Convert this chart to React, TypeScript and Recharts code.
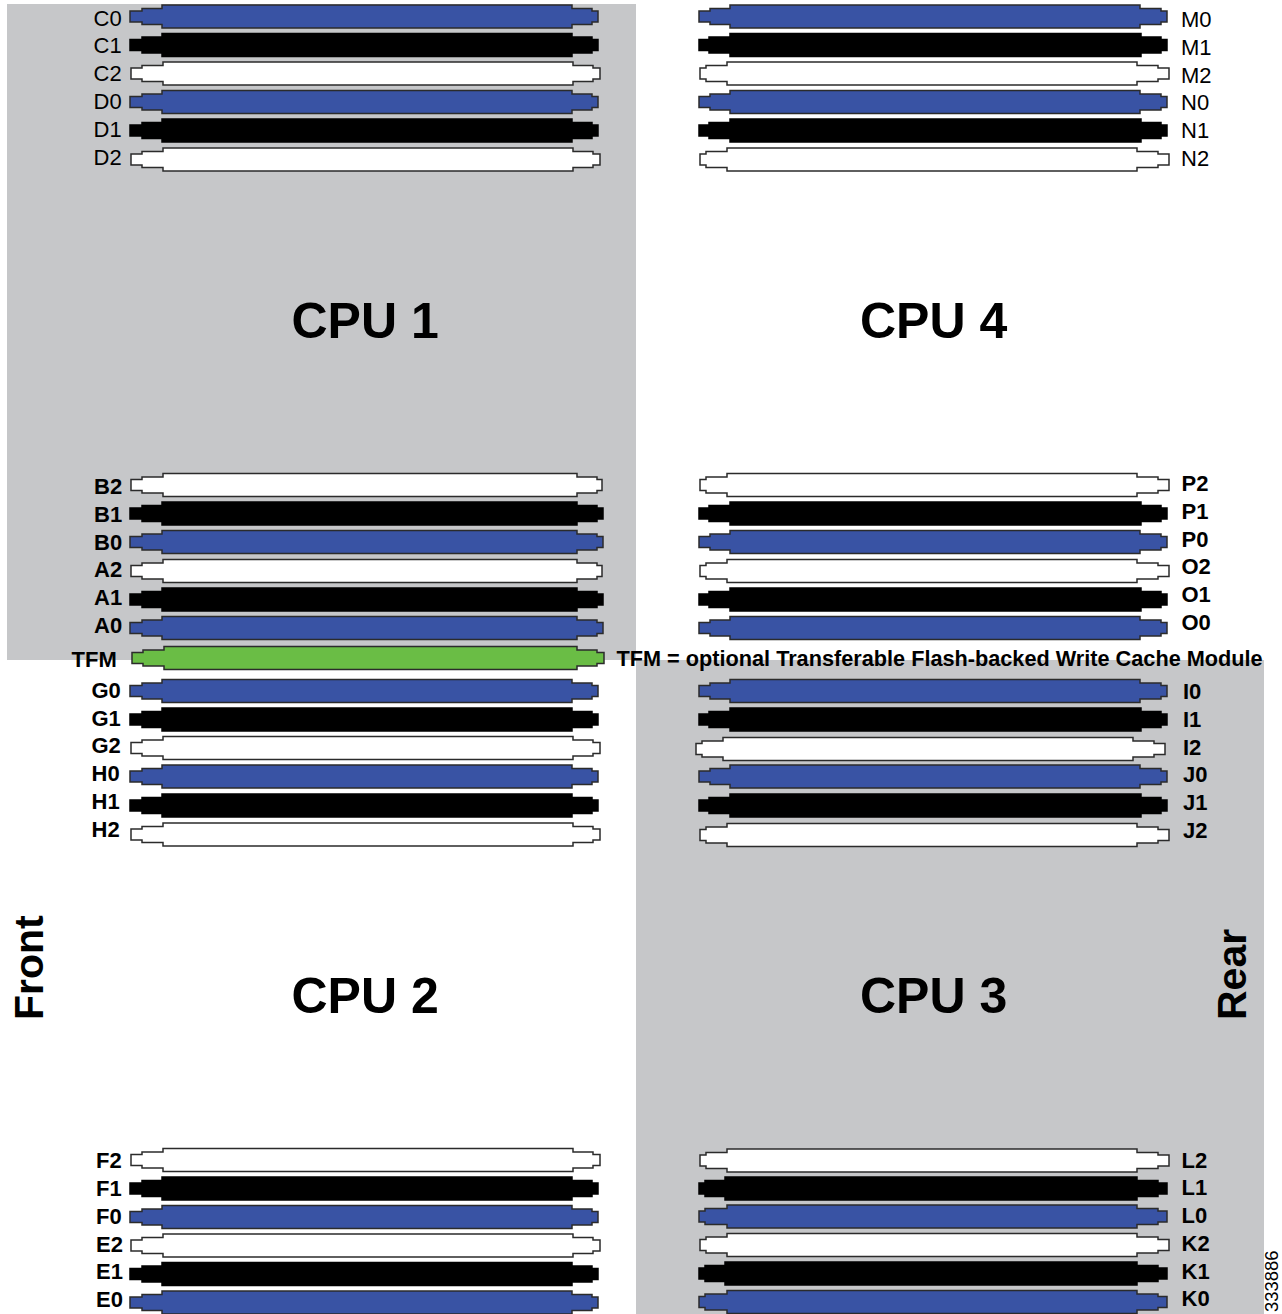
import { ScatterChart, Scatter, XAxis, YAxis, ReferenceArea } from "recharts";

const cdNames = ["C0", "C1", "C2", "D0", "D1", "D2"];
const cdRows = [16.5, 45, 73.5, 102, 130.5, 159.5];
const cdEnds = [130, 130, 131, 130, 130, 131];
const cdLabelRows = [18, 45.5, 73, 101, 129, 157];

const mnNames = ["M0", "M1", "M2", "N0", "N1", "N2"];
const mnRows = [16.5, 45, 73.5, 102, 130.5, 159.5];
const mnEnds = [699, 699, 700, 699, 699, 700];
const mnLabelRows = [19, 47, 75, 102, 130, 158];

const baNames = ["B2", "B1", "B0", "A2", "A1", "A0"];
const baRows = [485, 513.5, 542, 571, 599.5, 628];
const baEnds = [131, 130, 130, 131, 130, 130];
const baLabelRows = [486, 514, 542, 569, 597, 625];

const poNames = ["P2", "P1", "P0", "O2", "O1", "O0"];
const poRows = [485, 513.5, 542, 571, 599.5, 628];
const poEnds = [700, 699, 699, 700, 699, 699];
const poLabelRows = [483, 511, 539, 566, 594, 622];

const ghNames = ["G0", "G1", "G2", "H0", "H1", "H2"];
const ghRows = [691, 719.5, 748, 776.5, 805.5, 834.5];
const ghEnds = [130, 130, 131, 130, 130, 131];
const ghLabelRows = [690, 718, 745, 773, 801, 829];

const ijNames = ["I0", "I1", "I2", "J0", "J1", "J2"];
const ijRows = [691, 719.5, 749, 776.5, 805.5, 835];
const ijEnds = [699, 699, 696, 699, 699, 700];
const ijLabelRows = [691, 719, 747, 774, 802, 830];

const feNames = ["F2", "F1", "F0", "E2", "E1", "E0"];
const feRows = [1160, 1188.5, 1217, 1245.5, 1274, 1302.5];
const feEnds = [131, 130, 130, 131, 130, 130];
const feLabelRows = [1160, 1188, 1216, 1244, 1271, 1299];

const lkNames = ["L2", "L1", "L0", "K2", "K1", "K0"];
const lkRows = [1160.5, 1188.5, 1216.5, 1245, 1273.5, 1302];
const lkEnds = [700, 699, 699, 700, 699, 699];
const lkLabelRows = [1160, 1187, 1215, 1243, 1271, 1298];

const cpuNames = ["CPU 1", "CPU 4", "CPU 2", "CPU 3"];
const cpuXs = [291.5, 860, 291.5, 860];
const cpuYs = [320, 320, 995, 995];

const noteText = "TFM = optional Transferable Flash-backed Write Cache Module";
const figureId = "333886";

const FILLS: Record<string, string> = { "0": "#3953a4", "1": "#000000", "2": "#ffffff", M: "#6abd45" };
const INK = "#2b2b2b";
const GREY = "#c6c7c9";
const FONT = "'Liberation Sans', Arial, sans-serif";

// steps along a slot, measured from its left end: tab, body start, body end, shoulder end, right end
const OUTLINES: Record<string, number[]> = {
  cd0: [12, 32, 442, 462, 468],
  cd2: [11, 32, 442, 462, 469],
  ba0: [12, 32, 447, 467, 473],
  ba2: [11, 32, 446, 466, 471],
  mn0: [11, 31, 441, 462, 468],
  mn1: [10, 31, 442, 462, 468],
  mn2: [6, 27, 437, 458, 469],
  lk0: [6, 28, 438, 459, 468],
  lk1: [6, 26, 438, 459, 468],
  tfm: [11, 32, 445, 465, 472],
};

const outlineFor = (bank: string, name: string) => {
  const digit = name[name.length - 1];
  if (bank === "tfm") return OUTLINES.tfm;
  if (bank === "cd") return digit === "2" ? OUTLINES.cd2 : OUTLINES.cd0;
  if (bank === "ba") return digit === "2" ? OUTLINES.ba2 : OUTLINES.ba0;
  if (bank === "lk") return digit === "2" ? OUTLINES.mn2 : digit === "1" ? OUTLINES.lk1 : OUTLINES.lk0;
  return digit === "2" ? OUTLINES.mn2 : digit === "1" ? OUTLINES.mn1 : OUTLINES.mn0;
};

const SlotShape = (props: any) => {
  const { cx, cy, payload } = props;
  const [a, b, c, d, e] = outlineFor(payload.bank, payload.name);
  const pts = [
    [0, -5.5], [a, -5.5], [a, -8], [b, -8], [b, -11.5], [c, -11.5], [c, -8], [d, -8], [d, -5.5], [e, -5.5],
    [e, 5.5], [d, 5.5], [d, 8], [c, 8], [c, 11.5], [b, 11.5], [b, 8], [a, 8], [a, 5.5], [0, 5.5],
  ];
  const key = payload.name[payload.name.length - 1];
  return (
    <polygon
      points={pts.map(([x, y]) => `${cx + x},${cy + y}`).join(" ")}
      fill={FILLS[key]}
      stroke={key === "1" ? "#000000" : INK}
      strokeWidth={1.5}
    />
  );
};

const TextShape = (props: any) => {
  const { cx, cy, payload } = props;
  return (
    <text
      x={cx}
      y={cy}
      dy="0.36em"
      fontFamily={FONT}
      fontSize={payload.size}
      fontWeight={payload.bold ? 700 : 400}
      fill="#000000"
      transform={payload.turn ? `rotate(-90 ${cx} ${cy})` : undefined}
    >
      {payload.text}
    </text>
  );
};

const slots = (bank: string, names: string[], ends: number[], rows: number[]) =>
  names.map((name, i) => ({ bank, name, x: ends[i], y: rows[i] }));

const labels = (names: string[], x: number, rows: number[], bold: boolean) =>
  names.map((text, i) => ({ text, x, y: rows[i], size: 22, bold }));

const slotData = [
  ...slots("cd", cdNames, cdEnds, cdRows),
  ...slots("mn", mnNames, mnEnds, mnRows),
  ...slots("ba", baNames, baEnds, baRows),
  ...slots("mn", poNames, poEnds, poRows),
  ...slots("cd", ghNames, ghEnds, ghRows),
  ...slots("mn", ijNames, ijEnds, ijRows),
  ...slots("cd", feNames, feEnds, feRows),
  ...slots("lk", lkNames, lkEnds, lkRows),
  ...slots("tfm", ["TFM"], [132], [658]),
];

const textData = [
  ...labels(cdNames, 93.5, cdLabelRows, false),
  ...labels(mnNames, 1181, mnLabelRows, false),
  ...labels(baNames, 94, baLabelRows, true),
  ...labels(poNames, 1181.5, poLabelRows, true),
  ...labels(ghNames, 91.5, ghLabelRows, true),
  ...labels(ijNames, 1183, ijLabelRows, true),
  ...labels(feNames, 96, feLabelRows, true),
  ...labels(lkNames, 1181.5, lkLabelRows, true),
  { text: "TFM", x: 71.5, y: 659.5, size: 22, bold: true },
  { text: noteText, x: 616.5, y: 658, size: 21.7, bold: true },
  ...cpuNames.map((text, i) => ({ text, x: cpuXs[i], y: cpuYs[i], size: 50, bold: true })),
  { text: "Front", x: 28, y: 1020, size: 41, bold: true, turn: true },
  { text: "Rear", x: 1231, y: 1020, size: 41, bold: true, turn: true },
  { text: figureId, x: 1271, y: 1312, size: 18.4, bold: false, turn: true },
];

export default function App() {
  return (
    <div style={{ position: "absolute", left: 0, top: 0, width: 1282, height: 1314 }}>
      <ScatterChart width={1282} height={1314} margin={{ top: 0, right: 0, bottom: 0, left: 0 }}>
        <XAxis type="number" dataKey="x" domain={[0, 1282]} hide />
        <YAxis type="number" dataKey="y" domain={[0, 1314]} reversed hide />
        <ReferenceArea x1={7} x2={636} y1={4} y2={660} fill={GREY} fillOpacity={1} stroke="none" />
        <ReferenceArea x1={636} x2={1264} y1={660} y2={1314} fill={GREY} fillOpacity={1} stroke="none" />
        <Scatter data={slotData} shape={SlotShape} isAnimationActive={false} />
        <Scatter data={textData} shape={TextShape} isAnimationActive={false} />
      </ScatterChart>
    </div>
  );
}
